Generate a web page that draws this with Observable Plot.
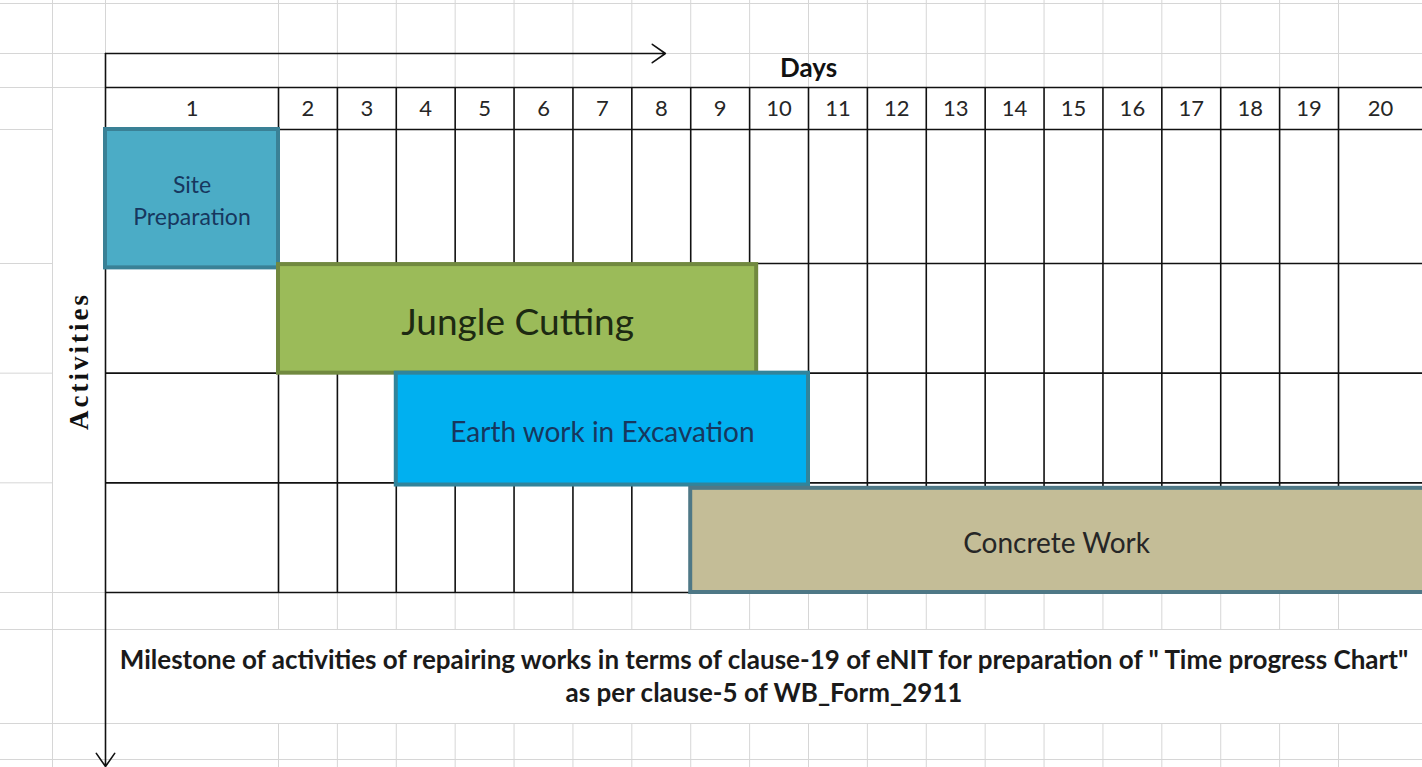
<!DOCTYPE html>
<html><head><meta charset="utf-8">
<script src="https://cdn.jsdelivr.net/npm/d3@7"></script>
<script src="https://cdn.jsdelivr.net/npm/@observablehq/plot@0.6"></script>
<style>html,body{margin:0;padding:0;background:#fff;overflow:hidden}</style>
</head><body><div id="chart"></div>
<script>
// ---- data ----
const dayLabels = ["1","2","3","4","5","6","7","8","9","10","11","12","13","14","15","16","17","18","19","20"];
const activities = ["Site Preparation", "Jungle Cutting", "Earth work in Excavation", "Concrete Work"];
const activityLabels = ["Site\nPreparation", "Jungle Cutting", "Earth work in Excavation", "Concrete Work"];
const startDay = [0, 1, 3, 8];          // day edge where bar starts (day d spans d-1 .. d)
const endDay = [1, 9.12, 10, 20.05];    // day edge where bar ends
const rowStart = [0, 1.01, 2.0, 3.05];  // activity row edge (row i spans i .. i+1)
const rowEnd = [1.04, 2.0, 3.02, 4.0];
const axisTitleX = "Days";
const axisTitleY = "Activities";
const captionLines = [
  "Milestone of activities of repairing works in terms of clause-19 of eNIT for preparation of \" Time progress Chart\"",
  "as per clause-5 of WB_Form_2911"
];

// ---- styles ----
const barStyle = {
  "Site Preparation": {fill: "#4bacc6", stroke: "#3a8196", text: "#17375e", size: 23},
  "Jungle Cutting": {fill: "#9bbb59", stroke: "#71893f", text: "#1d2a12", size: 37},
  "Earth work in Excavation": {fill: "#00b0f0", stroke: "#31849b", text: "#17375e", size: 28},
  "Concrete Work": {fill: "#c4bd97", stroke: "#4e7886", text: "#262626", size: 28}
};
const font = "Lato, 'Open Sans', sans-serif";
const grey = "#d6d6d6";

// ---- scales (sheet layout: day 1 and day 20 columns are wider) ----
const xCfg = {type: "linear", domain: [-2, -1, 0, 1, 19, 20], range: [0, 52, 105, 278, 1338, 1422]};
const yCfg = {type: "linear", domain: [-3, -2, -1, 0, 1, 4, 5, 6, 7], range: [3, 53, 87, 129, 263, 592, 629, 723, 759]};
const xs = Plot.scale({x: xCfg});
const ys = Plot.scale({y: yCfg});
const midX = (a, b) => xs.invert((xs.apply(a) + xs.apply(b)) / 2);
const midY = (a, b) => ys.invert((ys.apply(a) + ys.apply(b)) / 2);

const bars = activities.map((name, i) => ({
  name, label: activityLabels[i],
  x1: startDay[i], x2: endDay[i], y1: rowStart[i], y2: rowEnd[i]
}));
const header = dayLabels.map((d, i) => ({label: d, x: i + 0.5}));

const nRows = activities.length;
const nCols = dayLabels.length;
const topY = ys.invert(0), bottomY = ys.invert(767);
const leftX = xs.invert(0) - 0.1, rightX = xs.invert(1422) + 0.1;

// sheet gridlines (grey)
const greyV = [{x: -1, y1: topY, y2: bottomY}];
for (let k = 0; k <= nCols; k++) {
  greyV.push({x: k, y1: topY, y2: -1});
  greyV.push({x: k, y1: nRows, y2: nRows + 1});
  greyV.push({x: k, y1: nRows + 2, y2: bottomY});
}
const greyH = [];
for (const y of [-3, -2, -1, nRows + 1, nRows + 2, nRows + 3]) greyH.push({y, x1: leftX, x2: rightX});
for (let r = 0; r < nRows; r++) greyH.push({y: r, x1: leftX, x2: -1});
greyH.push({y: nRows, x1: leftX, x2: 0});

// table borders (black)
const blackH = d3.range(-1, nRows + 1).map(y => ({y, x1: 0, x2: nCols}));
const blackV = d3.range(1, nCols).map(x => ({x, y1: -1, y2: nRows}));
const arrows = [
  {x1: 0, y1: -2, x2: 7.57, y2: -2},
  {x1: 0, y1: -2, x2: 0, y2: ys.invert(766)}
];

const chart = Plot.plot({
  width: 1422, height: 767, margin: 0,
  x: {...xCfg, axis: null},
  y: {...yCfg, axis: null},
  color: {type: "identity"},
  style: {background: "#fff", fontFamily: font},
  marks: [
    Plot.ruleX(greyV, {x: "x", y1: "y1", y2: "y2", stroke: grey, strokeWidth: 1}),
    Plot.ruleY(greyH, {y: "y", x1: "x1", x2: "x2", stroke: grey, strokeWidth: 1}),
    Plot.ruleY(blackH, {y: "y", x1: "x1", x2: "x2", stroke: "#111", strokeWidth: 1.6}),
    Plot.ruleX(blackV, {x: "x", y1: "y1", y2: "y2", stroke: "#111", strokeWidth: 1.6}),
    Plot.arrow(arrows, {x1: "x1", y1: "y1", x2: "x2", y2: "y2", stroke: "#111", strokeWidth: 1.6, headLength: 15, headAngle: 70}),
    Plot.rect(bars, {
      x1: "x1", x2: "x2", y1: "y1", y2: "y2",
      fill: d => barStyle[d.name].fill, stroke: d => barStyle[d.name].stroke, strokeWidth: 4
    }),
    Plot.text(bars, {
      x: d => midX(d.x1, Math.min(d.x2, nCols)), y: d => midY(d.y1, d.y2), text: "label",
      fill: d => barStyle[d.name].text, fontSize: d => barStyle[d.name].size, lineHeight: 1.4
    }),
    Plot.text(header, {x: "x", y: -0.5, text: "label", fontSize: 22, fill: "#262626"}),
    Plot.text([axisTitleX], {x: 10, y: -1.55, text: d => d, fontSize: 26, fontWeight: "bold", fill: "#111"}),
    Plot.text([axisTitleY], {
      x: -0.5, y: midY(0, nRows), text: d => d, rotate: -90, fontSize: 27, fontWeight: "bold",
      fontFamily: "'Liberation Serif', 'DejaVu Serif', serif", fill: "#111"
    }),
    Plot.text(captionLines, {
      x: midX(0, nCols), y: (d, i) => i === 0 ? 5.33 : 5.68, text: d => d,
      fontSize: 26, fontWeight: "bold", fill: "#1a1a1a"
    })
  ]
});
// widen the letter spacing of the rotated sheet title, as in the reference
d3.select(chart).selectAll("text").filter(function () { return this.textContent === axisTitleY; })
  .attr("letter-spacing", "3px");
document.getElementById("chart").appendChild(chart);
</script>
</body></html>
